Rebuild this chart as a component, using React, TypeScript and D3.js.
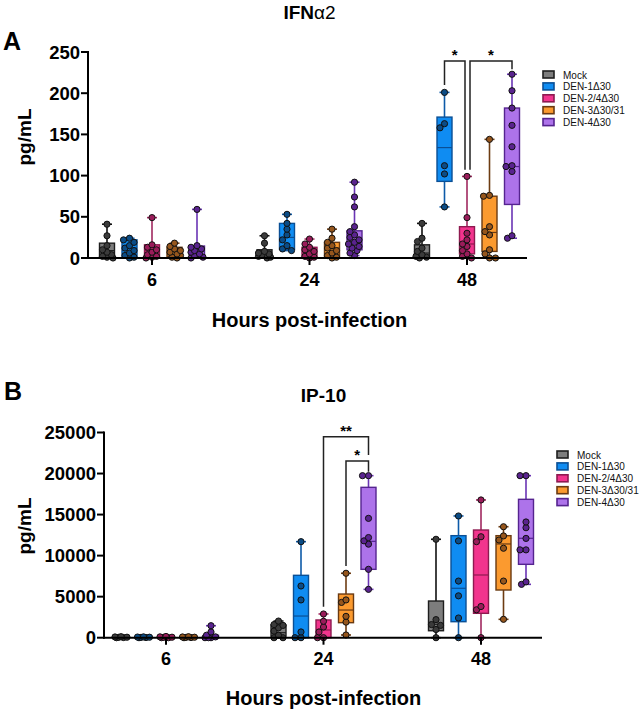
import React from "react";
import * as d3 from "d3";

// ---------- categories ----------
const timepoints = ["6", "24", "48"];
const seriesNames = ["Mock", "DEN-1Δ30", "DEN-2/4Δ30", "DEN-3Δ30/31", "DEN-4Δ30"];

// ---------- colours ----------
const boxFills = ["#7d7d7d", "#0f8cf2", "#f2348d", "#fb9a2f", "#ad73ea"];
const boxStrokes = ["#1e1e1e", "#0a4f95", "#8e1a50", "#6a3a12", "#55248f"];
const pointFills = ["#3b3b3b", "#0b4c86", "#9a1c5a", "#96561c", "#5a238f"];
const whiskerColors = ["#111111", "#0d5aa8", "#a0285f", "#6d3c12", "#6a34b4"];

// ---------- Panel A: IFNα2 (pg/mL) ----------  [6h, 24h, 48h]
const ifnMockPts = [[0, 1, 2, 4, 7, 10, 15, 27, 41], [0, 1, 2, 3, 4, 5, 6, 8, 18, 27], [0, 1, 2, 4, 8, 12, 20, 24, 42]];
const ifnDen1Pts = [[0, 1, 3, 6, 9, 12, 15, 19, 22, 24], [9, 11, 15, 22, 28, 35, 42, 53], [62, 102, 112, 158, 163, 201]];
const ifnDen2Pts = [[0, 1, 2, 4, 7, 10, 13, 16, 49], [0, 1, 2, 5, 8, 10, 13, 17, 23], [0, 2, 5, 9, 14, 17, 22, 30, 49, 99]];
const ifnDen3Pts = [[0, 1, 3, 5, 7, 9, 11, 14, 18], [0, 1, 3, 6, 9, 12, 15, 19, 24, 35], [0, 0, 5, 10, 28, 32, 38, 75, 76, 144]];
const ifnDen4Pts = [[0, 1, 3, 5, 7, 9, 11, 13, 15, 59], [3, 6, 9, 12, 14, 17, 19, 22, 25, 28, 32, 38, 62, 74, 92], [24, 27, 105, 111, 112, 135, 161, 182, 203, 223]];
// box stats: [min, q1, median, q3, max]
const ifnMockBox = [[0, 2, 9, 18, 41], [0, 1, 5, 10, 27], [0, 1, 6, 16, 42]];
const ifnDen1Box = [[0, 2, 12, 22, 24], [9, 10.5, 25, 42, 53], [62, 93, 134, 171, 201]];
const ifnDen2Box = [[0, 2, 9, 16, 49], [0, 1, 8, 13, 23], [0, 5, 17, 38, 99]];
const ifnDen3Box = [[0, 2, 8, 13, 18], [0, 1, 12, 19, 35], [0, 8, 31, 75, 144]];
const ifnDen4Box = [[0, 1, 10, 14.5, 59], [3, 10, 19, 33, 92], [24, 65, 111, 182, 223]];
const ifnTicks = [0, 50, 100, 150, 200, 250];

// ---------- Panel B: IP-10 (pg/mL) ----------
const ipMockPts = [[0, 20, 40, 60, 90, 120], [0, 0, 300, 800, 1200, 1500, 1600, 2030], [0, 1000, 1500, 1600, 2200, 11990]];
const ipDen1Pts = [[0, 20, 40, 60, 80, 100], [0, 0, 700, 4600, 6300, 11700], [0, 2400, 5100, 6900, 11800, 14830]];
const ipDen2Pts = [[0, 0, 40, 60, 100, 150], [0, 0, 700, 1300, 2000, 2890], [0, 3400, 3800, 11700, 12300, 16780]];
const ipDen3Pts = [[0, 20, 40, 60, 90, 120], [330, 1900, 2600, 4300, 4600, 7850], [2240, 6900, 10900, 11900, 12400, 13520]];
const ipDen4Pts = [[0, 0, 0, 100, 300, 700, 1460], [5890, 8330, 11400, 11800, 12200, 14540, 19740, 19740], [6500, 6800, 10700, 10700, 12100, 13400, 14100, 19740, 19740]];
const ipMockBox = [[0, 0, 30, 80, 120], [0, 200, 610, 1550, 2030], [0, 850, 1630, 4470, 11990]];
const ipDen1Box = [[0, 0, 30, 60, 100], [0, 0, 2640, 7600, 11700], [0, 1950, 6020, 12430, 14830]];
const ipDen2Box = [[0, 0, 30, 80, 150], [0, 0, 940, 2160, 2890], [0, 2970, 7640, 13120, 16780]];
const ipDen3Box = [[0, 0, 40, 80, 120], [330, 1830, 3370, 5320, 7850], [2240, 5810, 11420, 12430, 13520]];
const ipDen4Box = [[0, 0, 100, 290, 1460], [5890, 8330, 11740, 18320, 19740], [6500, 8940, 12110, 16860, 19740]];
const ipTicks = [0, 5000, 10000, 15000, 20000, 25000];

// significance brackets: [leftSeries, rightSeries, time, topValue, leftBottom, rightBottom, label, leftNudge, rightNudge]
const ifnBrackets: [number, number, number, number, number, number, string, number, number][] = [
  [1, 2, 2, 239, 210, 107, "*", 0, -2],
  [2, 4, 2, 239, 107, 229, "*", 3, 0],
];
const ipBrackets: [number, number, number, number, number, number, string, number, number][] = [
  [2, 4, 1, 24490, 3780, 22260, "**", 0, 0],
  [3, 4, 1, 21530, 8740, 20220, "*", 0, 0],
];

const FONT = "'Liberation Sans', Arial, Helvetica, sans-serif";

// horizontal dodge of points so they stay inside the box width
function swarm(ys: number[], r: number): number[] {
  const xs = new Array(ys.length).fill(0);
  const placed: { x: number; y: number }[] = [];
  const order = ys.map((_, i) => i).sort((a, b) => ys[a] - ys[b]);
  const cands = [0, -4.5, 4.5, -2.5, 2.5, -6, 6];
  for (const i of order) {
    let best = cands[0];
    let bestD = -1;
    let found = false;
    for (const c of cands) {
      const d = placed.length ? Math.min(...placed.map((p) => Math.hypot(p.x - c, p.y - ys[i]))) : Infinity;
      if (d >= r * 1.55) {
        best = c;
        found = true;
        break;
      }
      if (d > bestD) {
        bestD = d;
        best = c;
      }
    }
    void found;
    xs[i] = best;
    placed.push({ x: best, y: ys[i] });
  }
  return xs;
}

type PanelProps = {
  letter: string;
  letterPos: [number, number];
  title: React.ReactNode;
  titleY: number;
  axisX: number;
  yTop: number;
  yBottom: number;
  xEnd: number;
  groupRange: [number, number];
  yMax: number;
  ticks: number[];
  points: number[][][];
  boxes: number[][][];
  brackets: [number, number, number, number, number, number, string, number, number][];
  yLabelPos: [number, number];
  xTickLabelY: number;
  xTitleY: number;
  legendPos: [number, number];
};

function Panel(p: PanelProps) {
  const y = d3.scaleLinear().domain([0, p.yMax]).range([p.yBottom, p.yTop]);
  const gx = d3.scalePoint<string>().domain(timepoints).range(p.groupRange);
  const sx = d3.scalePoint<string>().domain(seriesNames).range([-45, 45]);
  const boxW = 15;
  const midX = gx(timepoints[1])!;
  const xOf = (s: number, t: number) => gx(timepoints[t])! + sx(seriesNames[s])!;

  return (
    <g>
      <text x={p.letterPos[0]} y={p.letterPos[1]} fontSize={25} fontWeight="bold" fontFamily={FONT}>{p.letter}</text>
      <text x={midX} y={p.titleY} textAnchor="middle" fontSize={19} fontWeight="bold" fontFamily={FONT}>{p.title}</text>

      {/* boxes */}
      {seriesNames.map((name, s) =>
        timepoints.map((tp, t) => {
          const [mn, q1, md, q3, mx] = p.boxes[s][t];
          const cx = xOf(s, t);
          const pts = p.points[s][t];
          const pys = pts.map((v) => y(v));
          const offs = swarm(pys, 3.2);
          return (
            <g key={name + tp}>
              <line x1={cx} x2={cx} y1={y(mx)} y2={y(q3)} stroke={whiskerColors[s]} strokeWidth={1.6} />
              <line x1={cx} x2={cx} y1={y(q1)} y2={y(mn)} stroke={whiskerColors[s]} strokeWidth={1.6} />
              <line x1={cx - 5} x2={cx + 5} y1={y(mx)} y2={y(mx)} stroke={whiskerColors[s]} strokeWidth={1.6} />
              <line x1={cx - 5} x2={cx + 5} y1={y(mn)} y2={y(mn)} stroke={whiskerColors[s]} strokeWidth={1.6} />
              <rect x={cx - boxW / 2} y={y(q3)} width={boxW} height={Math.max(0.5, y(q1) - y(q3))} fill={boxFills[s]} stroke={boxStrokes[s]} strokeWidth={1.4} />
              <line x1={cx - boxW / 2} x2={cx + boxW / 2} y1={y(md)} y2={y(md)} stroke={boxStrokes[s]} strokeWidth={1.2} />
              {pts.map((v, i) => (
                <circle key={i} cx={cx + offs[i]} cy={y(v)} r={3.1} fill={pointFills[s]} stroke="#111" strokeWidth={1} />
              ))}
            </g>
          );
        })
      )}

      {/* brackets */}
      {p.brackets.map(([ls, rs, t, top, lb, rb, lab, ln, rn], i) => {
        const x1 = xOf(ls, t) + ln;
        const x2 = xOf(rs, t) + rn;
        return (
          <g key={"b" + i}>
            <path d={`M${x1},${y(lb)} V${y(top)} H${x2} V${y(rb)}`} fill="none" stroke="#222" strokeWidth={1.5} />
            <text x={(x1 + x2) / 2} y={y(top) - 1} textAnchor="middle" fontSize={15} fontWeight="bold" fontFamily={FONT}>{lab}</text>
          </g>
        );
      })}

      {/* axes */}
      <line x1={p.axisX} x2={p.axisX} y1={p.yTop - 1} y2={p.yBottom + 1} stroke="#000" strokeWidth={2} />
      <line x1={p.axisX - 1} x2={p.xEnd} y1={p.yBottom} y2={p.yBottom} stroke="#000" strokeWidth={2} />
      {p.ticks.map((t) => (
        <g key={"yt" + t}>
          <line x1={p.axisX - 7} x2={p.axisX} y1={y(t)} y2={y(t)} stroke="#000" strokeWidth={2} />
          <text x={p.axisX - 8} y={y(t) + 6.5} textAnchor="end" fontSize={18.5} fontWeight="bold" fontFamily={FONT}>{t}</text>
        </g>
      ))}
      {timepoints.map((tp) => (
        <g key={"xt" + tp}>
          <line x1={gx(tp)!} x2={gx(tp)!} y1={p.yBottom} y2={p.yBottom + 7} stroke="#000" strokeWidth={2} />
          <text x={gx(tp)!} y={p.xTickLabelY} textAnchor="middle" fontSize={18} fontWeight="bold" fontFamily={FONT}>{tp}</text>
        </g>
      ))}
      <text transform={`translate(${p.yLabelPos[0]},${p.yLabelPos[1]}) rotate(-90)`} textAnchor="middle" fontSize={19} fontWeight="bold" fontFamily={FONT}>pg/mL</text>
      <text x={midX} y={p.xTitleY} textAnchor="middle" fontSize={20} fontWeight="bold" fontFamily={FONT}>Hours post-infection</text>

      {/* legend */}
      {seriesNames.map((name, s) => (
        <g key={"lg" + name} transform={`translate(${p.legendPos[0]},${p.legendPos[1] + s * 11.9})`}>
          <rect x={0} y={-4} width={11} height={7} fill={boxFills[s]} stroke={boxStrokes[s]} strokeWidth={1.6} />
          <text x={20} y={3.5} fontSize={10} fontFamily={FONT} fill="#111">{name}</text>
        </g>
      ))}
    </g>
  );
}

export default function App() {
  return (
    <svg width={640} height={713} style={{ position: "absolute", left: 0, top: 0, background: "#fff" }}>
      <Panel
        letter="A"
        letterPos={[3, 50]}
        title={<><tspan>IFN</tspan><tspan fontWeight="normal">α2</tspan></>}
        titleY={19}
        axisX={88}
        yTop={52}
        yBottom={258}
        xEnd={527}
        groupRange={[152, 467]}
        yMax={250}
        ticks={ifnTicks}
        points={[ifnMockPts, ifnDen1Pts, ifnDen2Pts, ifnDen3Pts, ifnDen4Pts]}
        boxes={[ifnMockBox, ifnDen1Box, ifnDen2Box, ifnDen3Box, ifnDen4Box]}
        brackets={ifnBrackets}
        yLabelPos={[31, 137]}
        xTickLabelY={286}
        xTitleY={327}
        legendPos={[543, 75]}
      />
      <Panel
        letter="B"
        letterPos={[4, 400]}
        title="IP-10"
        titleY={402}
        axisX={104}
        yTop={432.5}
        yBottom={637.7}
        xEnd={542}
        groupRange={[166, 481]}
        yMax={25000}
        ticks={ipTicks}
        points={[ipMockPts, ipDen1Pts, ipDen2Pts, ipDen3Pts, ipDen4Pts]}
        boxes={[ipMockBox, ipDen1Box, ipDen2Box, ipDen3Box, ipDen4Box]}
        brackets={ipBrackets}
        yLabelPos={[31, 526]}
        xTickLabelY={665}
        xTitleY={705}
        legendPos={[557, 455]}
      />
    </svg>
  );
}
